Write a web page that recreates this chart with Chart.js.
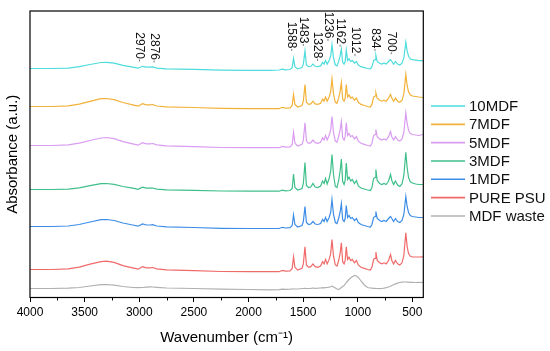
<!DOCTYPE html>
<html><head><meta charset="utf-8">
<script src="https://cdn.jsdelivr.net/npm/chart.js@4.4.1/dist/chart.umd.min.js"></script>
<style>html,body{margin:0;padding:0;background:#fff;}</style>
</head><body>
<canvas id="c" width="550" height="351"></canvas>
<script>
const wavenumbers = [4000,3800,3650,3550,3450,3350,3300,3230,3150,3060,3010,2970,2935,2900,2876,2840,2750,2500,2250,2000,1800,1720,1690,1660,1620,1600,1588,1575,1550,1510,1498,1483,1470,1450,1430,1410,1390,1365,1340,1322,1308,1295,1280,1262,1248,1236,1222,1205,1190,1175,1162,1150,1138,1125,1115,1105,1093,1080,1065,1050,1030,1012,995,970,940,910,885,870,855,842,834,822,800,780,760,740,718,700,688,672,655,635,615,595,578,560,548,535,520,500,470,440,400];

const mdf10 = [229,229,229.4,230.8,233,235,235.2,234.3,232.1,230.3,229.3,231.2,230.3,230.3,230.6,229.4,228.7,228.1,227.4,227.2,227.2,227.5,228.3,227.7,228,229.9,239.1,230.8,228.6,229.9,233.4,246.6,232.5,230.8,231.2,233.4,231.2,230.8,231.6,235.2,233.4,236.9,233.4,236.9,241.3,252.8,239.6,232.5,231.6,236,241.3,248.5,235.2,233.4,236,247.5,236.9,238.7,236,236.9,234.3,236,232.5,230.8,229.9,229,228.6,230.8,236.9,237.8,242.2,236,234.3,233.4,234.3,233.4,236,237.8,236,233.4,236,233.4,232.5,234.3,239.6,255.4,246.6,241.3,238.7,237.8,237.4,236.9,236.9];

const mdf7 = [191,191,191.6,193.3,196.1,198.8,199,197.8,195,192.7,191.3,193.8,192.7,192.7,193,191.5,190.7,190,189.2,188.9,188.9,188.9,190.2,189.4,189.7,192,203,193.1,190.5,192,196.3,213,195.2,193.1,193.6,196.3,193.6,193.1,194.2,198.4,196.3,200.5,196.3,200.5,205.7,218.7,203.6,195.2,194.2,199.4,205.7,215,198.4,196.3,199.4,213,200.5,202.6,199.4,200.5,197.3,199.4,195.2,193.1,192,191,190.5,193.1,200.5,201.5,204.7,199.4,197.3,196.3,197.3,196.3,199.4,203,199.4,196.3,199.4,196.3,195.2,197.3,203.6,223,212,205.7,202.6,201.5,201,200.5,200];

const mdf5 = [152,152,152.6,154.3,157,159.5,160,158.8,155.9,153.7,152.3,154.8,153.7,153.7,154,152.6,151.7,150.9,150,149.8,149.8,149.8,151.1,150.4,150.7,153.1,165.3,154.2,151.5,153.1,157.5,174.7,156.4,154.2,154.8,157.5,154.8,154.2,155.3,159.7,157.5,161.9,157.5,161.9,167.4,181,165.2,156.4,155.3,160.8,167.4,176,159.7,157.5,160.8,174.7,161.9,164.1,160.8,161.9,158.6,160.8,156.4,154.2,153.1,152,151.5,154.2,161.9,163,168,160.8,158.6,157.5,158.6,157.5,160.8,166,160.8,157.5,160.8,157.5,156.4,158.6,165.2,184.7,174,167.4,164.1,163,162.5,162,163];

const mdf3 = [108,108,108.4,109.7,111.8,113.8,114,113.2,111,109.3,108.2,110.3,109.3,109.3,109.5,108.4,107.7,107.1,106.5,106.3,106.3,106.3,107.3,106.7,107,109,123.5,110,107.5,109,114,135,112,110,110.5,114,110.5,110,111.5,116.5,114,119,113.5,119,126,143,123,111,110,117,126,138.5,116,113,117,134.5,118,120.5,116.5,118,114,117,111.5,109.5,108.5,107.5,107,110,119,120,128,117,114,113,114,113,116.5,123,117,113,116.5,112.5,111,113.5,122,145.3,130,120,116,114.5,113.5,113,113];

const mdf1 = [71,71,71.5,73,75.5,77.8,78,77,74.5,72.5,71.3,73.5,72.5,72.5,72.8,71.5,70.7,70,69.2,69,69,69,70.2,69.5,69.8,72,82.5,73,70.5,72,76,91,75,73,73.5,76,73.5,73,74,78,76,80,76,80,85,98,83,75,74,79,85,94,78,76,79,92,80,82,79,80,77,79,75,73,72,71,70.5,73,80,81,86,79,77,76,77,76,79,81,79,76,79,76,75,77,83,101,91,85,82,81,80.5,80,80];

const purePSU = [28,28,28.6,30.4,33.3,35.9,36.3,35.1,31.9,29.6,28.3,30.8,29.7,29.7,30,28.6,27.7,26.9,26,25.8,25.8,25.8,27.1,26.3,26.7,29.1,40.7,30.2,27.4,29.1,33.6,50.7,32.5,30.2,30.8,33.6,30.8,30.2,31.4,35.8,33.6,38.1,33.6,38.1,43.7,58,41.4,32.5,31.4,37,43.7,54.7,35.8,33.6,37,50.7,38.1,40.3,37,38.1,34.7,37,32.5,30.2,29.1,28,27.4,30.2,38.1,39.2,45.3,37,34.7,33.6,34.7,33.6,37,43,37,33.6,37,33.6,32.5,34.7,42,64.7,51,44,41.5,40.5,40.5,40.5,40.7];

const mdfWaste = [9,9,9.3,10,11.5,12.8,13,12.3,11,10,9.8,10,10.3,10.6,10.5,10.2,9.5,9,8.3,8,7.7,7.8,8.3,8.2,8.3,8.5,8.7,8.5,8.5,9,9,9.2,9,9,9.2,9.5,9.2,9.3,9.5,9.8,9.6,9.8,10,10.3,10.8,11.3,10.5,9.5,8.5,8,9,10,11,12,13.5,15,16.5,18,19.5,20.8,22,21.5,20,16.5,12.5,10,9.5,9.4,9.2,9.1,9,9,8.9,9,9.3,9.8,10.5,11.3,12,12.8,13.6,14.4,15,15.3,15.5,15.5,15.4,15.3,15.2,15.1,15,15.2,15];

const seriesNames = ['10MDF','7MDF','5MDF','3MDF','1MDF','PURE PSU','MDF waste'];
const seriesValues = [mdf10, mdf7, mdf5, mdf3, mdf1, purePSU, mdfWaste];
const xTickValues = [4000,3500,3000,2500,2000,1500,1000,500];
const xMinorTickValues = [3750,3250,2750,2250,1750,1250,750];
const peakLabels = ['2970','2876','1588','1483','1328','1236','1162','1012','834','700'];

const palette = ['#4fdcdc','#f2b23a','#d99cf0','#3fbf8a','#3d8de6','#f06a6a','#b0b0b0'];
const FONT = "'Liberation Sans', Arial, sans-serif";

const peakLabelStyle = {
  dx:  [-3, 1.3, -1.8, -1.7, -4.4, -4, 0, -1.5, -1, 0.7],
  top: [32.3, 33.3, 21.7, 16.7, 31.7, 11.7, 18.3, 26.7, 28.3, 31.7]
};

const framePlugin = {
  id: 'frame',
  afterDraw(chart) {
    const {ctx, chartArea: a, scales: {x}} = chart;
    ctx.save();
    ctx.strokeStyle = '#000';
    ctx.lineWidth = 1.2;
    ctx.strokeRect(a.left, a.top, a.right - a.left, a.bottom - a.top);
    ctx.lineWidth = 1;
    ctx.beginPath();
    xMinorTickValues.forEach(v => {
      const px = Math.round(x.getPixelForValue(v)) + 0.5;
      ctx.moveTo(px, a.bottom);
      ctx.lineTo(px, a.bottom + 3);
    });
    ctx.stroke();
    ctx.restore();
  }
};

const legendPlugin = {
  id: 'sideLegend',
  afterDraw(chart) {
    const {ctx} = chart;
    ctx.save();
    ctx.font = '15px ' + FONT;
    ctx.textAlign = 'left';
    ctx.textBaseline = 'middle';
    chart.data.datasets.forEach((ds, i) => {
      const y = 106 + i * 18.33;
      ctx.strokeStyle = ds.borderColor;
      ctx.lineWidth = 1.6;
      ctx.beginPath();
      ctx.moveTo(431, y);
      ctx.lineTo(465, y);
      ctx.stroke();
      ctx.fillStyle = '#111';
      ctx.fillText(ds.label, 469, y + 1);
    });
    ctx.restore();
  }
};

const peakPlugin = {
  id: 'peaks',
  afterDraw(chart) {
    const {ctx, scales: {x}} = chart;
    ctx.save();
    ctx.font = '12px ' + FONT;
    ctx.fillStyle = '#111';
    ctx.strokeStyle = '#777';
    ctx.lineWidth = 1;
    ctx.textAlign = 'left';
    ctx.textBaseline = 'middle';
    peakLabels.forEach((lab, i) => {
      const px = x.getPixelForValue(Number(lab)) + peakLabelStyle.dx[i];
      const top = peakLabelStyle.top[i];
      ctx.save();
      ctx.translate(px, top);
      ctx.rotate(Math.PI / 2);
      ctx.fillText(lab, 0, 0);
      const w = ctx.measureText(lab).width;
      ctx.beginPath();
      ctx.moveTo(w + 0.5, 0);
      ctx.lineTo(w + 2.5, 0);
      ctx.stroke();
      ctx.restore();
    });
    ctx.restore();
  }
};

const datasets = seriesNames.map((name, i) => ({
  label: name,
  data: wavenumbers.map((w, j) => ({x: w, y: seriesValues[i][j]})),
  borderColor: palette[i],
  borderWidth: 1.2,
  pointRadius: 0,
  tension: 0,
  fill: false
}));

new Chart(document.getElementById('c'), {
  type: 'line',
  data: {datasets},
  options: {
    responsive: false,
    animation: false,
    layout: {padding: {left: 0, right: 126.7, top: 11, bottom: 0}},
    plugins: {legend: {display: false}, tooltip: {enabled: false}},
    scales: {
      x: {
        type: 'linear',
        reverse: true,
        min: 400,
        max: 4000,
        afterBuildTicks: (s) => { s.ticks = xTickValues.map(v => ({value: v})); },
        afterFit: (s) => { s.height = 53.5; },
        grid: {drawOnChartArea: false, drawTicks: true, tickLength: 4.5, color: '#000', tickColor: '#000', lineWidth: 1},
        border: {display: false},
        ticks: {color: '#000', font: {size: 12, family: FONT}, padding: 3, maxRotation: 0, autoSkip: false, callback: (v) => String(v)},
        title: {display: true, text: 'Wavenumber (cm\u207B\u00B9)', color: '#000', font: {size: 15, family: FONT}, padding: {top: 0, bottom: 4}}
      },
      y: {
        min: 0,
        max: 286.5,
        afterFit: (s) => { s.width = 30; },
        grid: {display: false},
        border: {display: false},
        ticks: {display: false},
        title: {display: true, text: 'Absorbance (a.u.)', color: '#000', font: {size: 15, family: FONT}, padding: {top: 3.5, bottom: 0}}
      }
    }
  },
  plugins: [framePlugin, legendPlugin, peakPlugin]
});
</script>
</body></html>
